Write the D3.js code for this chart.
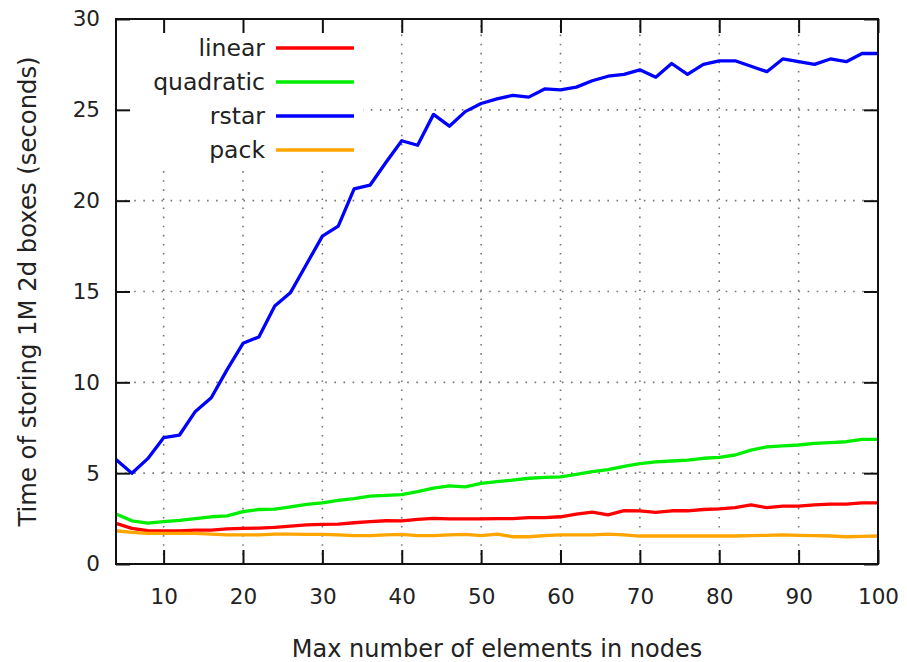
<!DOCTYPE html>
<html>
<head>
<meta charset="utf-8">
<script src="https://cdn.jsdelivr.net/npm/d3@7"></script>
<style>
  body { margin: 0; background: #fff; }
  text { font-family: "DejaVu Sans", Verdana, sans-serif; fill: #222; }
</style>
</head>
<body>
<div id="chart"></div>
<script>
// Max number of elements in nodes
const nodes = [4, 6, 8, 10, 12, 14, 16, 18, 20, 22, 24, 26, 28, 30, 32, 34, 36, 38, 40, 42,
  44, 46, 48, 50, 52, 54, 56, 58, 60, 62, 64, 66, 68, 70, 72, 74, 76, 78, 80, 82,
  84, 86, 88, 90, 92, 94, 96, 98, 100];

const linear = [2.24, 1.96, 1.83, 1.82, 1.82, 1.87, 1.87, 1.93, 1.96, 1.98,
  2.02, 2.09, 2.15, 2.18, 2.2, 2.27, 2.33, 2.38, 2.37, 2.46,
  2.51, 2.48, 2.48, 2.48, 2.5, 2.5, 2.55, 2.55, 2.6, 2.75,
  2.86, 2.7, 2.94, 2.92, 2.84, 2.93, 2.93, 3.0, 3.03, 3.1,
  3.25, 3.1, 3.19, 3.19, 3.25, 3.3, 3.3, 3.37, 3.37];

const quadratic = [2.75, 2.38, 2.25, 2.33, 2.4, 2.5, 2.6, 2.65, 2.88, 3.0,
  3.02, 3.15, 3.28, 3.37, 3.5, 3.6, 3.74, 3.78, 3.82, 3.98,
  4.18, 4.3, 4.25, 4.44, 4.53, 4.62, 4.72, 4.77, 4.8, 4.94,
  5.08, 5.2, 5.38, 5.52, 5.62, 5.67, 5.72, 5.82, 5.87, 6.0,
  6.27, 6.45, 6.5, 6.55, 6.64, 6.68, 6.73, 6.86, 6.86];

const rstar = [5.75, 5.0, 5.8, 6.95, 7.1, 8.4, 9.15, 10.7, 12.15, 12.5,
  14.2, 14.95, 16.5, 18.05, 18.6, 20.65, 20.85, 22.1, 23.3, 23.05,
  24.75, 24.1, 24.9, 25.35, 25.6, 25.8, 25.7, 26.15, 26.1, 26.25,
  26.6, 26.85, 26.95, 27.2, 26.8, 27.55, 26.95, 27.5, 27.7, 27.7,
  27.4, 27.1, 27.8, 27.65, 27.5, 27.8, 27.65, 28.1, 28.1];

const pack = [1.83, 1.74, 1.69, 1.69, 1.69, 1.69, 1.65, 1.6, 1.6, 1.6,
  1.65, 1.65, 1.63, 1.63, 1.6, 1.56, 1.56, 1.6, 1.63, 1.56,
  1.56, 1.6, 1.63, 1.56, 1.65, 1.5, 1.5, 1.56, 1.6, 1.6,
  1.6, 1.65, 1.6, 1.54, 1.54, 1.54, 1.54, 1.54, 1.54, 1.54,
  1.56, 1.58, 1.6, 1.58, 1.56, 1.54, 1.5, 1.52, 1.54];

const seriesNames = ["linear", "quadratic", "rstar", "pack"];
const seriesColors = ["#ff0000", "#00ee00", "#0000ff", "#ffa500"];
const seriesValues = [linear, quadratic, rstar, pack];

const xTicks = [10, 20, 30, 40, 50, 60, 70, 80, 90, 100];
const yTicks = [0, 5, 10, 15, 20, 25, 30];

const W = 907, H = 662;
const margin = { top: 19, right: 29, bottom: 98, left: 116 };
const width = W - margin.left - margin.right,
  height = H - margin.top - margin.bottom;

const svg = d3.select("#chart").append("svg")
  .attr("width", W).attr("height", H);

const g = svg.append("g")
  .attr("transform", "translate(" + margin.left + "," + margin.top + ")");

const x = d3.scaleLinear().domain([4, 100]).range([0, width]);
const y = d3.scaleLinear().domain([0, 30]).range([height, 0]);

// dotted grid
const grid = g.append("g")
  .attr("stroke", "#777")
  .attr("stroke-width", 1.6)
  .attr("stroke-dasharray", "1.6,7.5");
grid.selectAll(".gx").data(xTicks.slice(0, -1)).enter().append("line")
  .attr("x1", d => x(d)).attr("x2", d => x(d))
  .attr("y1", height).attr("y2", 0);
grid.selectAll(".gy").data(yTicks.slice(1, -1)).enter().append("line")
  .attr("y1", d => y(d)).attr("y2", d => y(d))
  .attr("x1", 0).attr("x2", width);

// opaque key area
g.append("rect")
  .attr("x", 0).attr("y", 0)
  .attr("width", 247).attr("height", 149)
  .attr("fill", "#fff");

// series lines
const line = d3.line()
  .x((d, i) => x(nodes[i]))
  .y(d => y(d));

seriesValues.forEach((vals, k) => {
  g.append("path")
    .datum(vals)
    .attr("fill", "none")
    .attr("stroke", seriesColors[k])
    .attr("stroke-width", 3.3)
    .attr("stroke-linejoin", "round")
    .attr("d", line);
});

// axes: ticks inward on all four sides
const tickLen = 14;
const axBottom = g.append("g").attr("transform", "translate(0," + height + ")")
  .call(d3.axisBottom(x).tickValues(xTicks).tickSizeInner(-tickLen).tickSizeOuter(0));
const axTop = g.append("g")
  .call(d3.axisTop(x).tickValues(xTicks).tickSizeInner(-tickLen).tickSizeOuter(0).tickFormat(""));
const axLeft = g.append("g")
  .call(d3.axisLeft(y).tickValues(yTicks).tickSizeInner(-tickLen).tickSizeOuter(0));
const axRight = g.append("g").attr("transform", "translate(" + width + ",0)")
  .call(d3.axisRight(y).tickValues(yTicks).tickSizeInner(-tickLen).tickSizeOuter(0).tickFormat(""));

[axBottom, axTop, axLeft, axRight].forEach(a => {
  a.select(".domain").remove();
  a.selectAll(".tick line").attr("stroke", "#111").attr("stroke-width", 2);
  a.selectAll("text").attr("font-size", 21.5).attr("fill", "#222")
    .attr("font-family", "DejaVu Sans, Verdana, sans-serif");
});
axBottom.selectAll("text").attr("dy", "0.71em").attr("y", 25);
axLeft.selectAll("text").attr("x", -16);

// frame
g.append("rect")
  .attr("x", 0).attr("y", 0)
  .attr("width", width).attr("height", height)
  .attr("fill", "none")
  .attr("stroke", "#111")
  .attr("stroke-width", 2);

// legend
const legend = g.append("g");
seriesNames.forEach((name, k) => {
  const ly = 29 + k * 34;
  legend.append("text")
    .attr("x", 149).attr("y", ly)
    .attr("dy", "0.35em")
    .attr("text-anchor", "end")
    .attr("font-size", 23.5)
    .text(name);
  legend.append("line")
    .attr("x1", 160).attr("x2", 238)
    .attr("y1", ly).attr("y2", ly)
    .attr("stroke", seriesColors[k])
    .attr("stroke-width", 3.3);
});

// axis titles
svg.append("text")
  .attr("x", margin.left + width / 2)
  .attr("y", 657)
  .attr("text-anchor", "middle")
  .attr("font-size", 24)
  .text("Max number of elements in nodes");

svg.append("text")
  .attr("transform", "translate(36," + (margin.top + height / 2) + ") rotate(-90)")
  .attr("text-anchor", "middle")
  .attr("font-size", 24.3)
  .text("Time of storing 1M 2d boxes (seconds)");
</script>
</body>
</html>
